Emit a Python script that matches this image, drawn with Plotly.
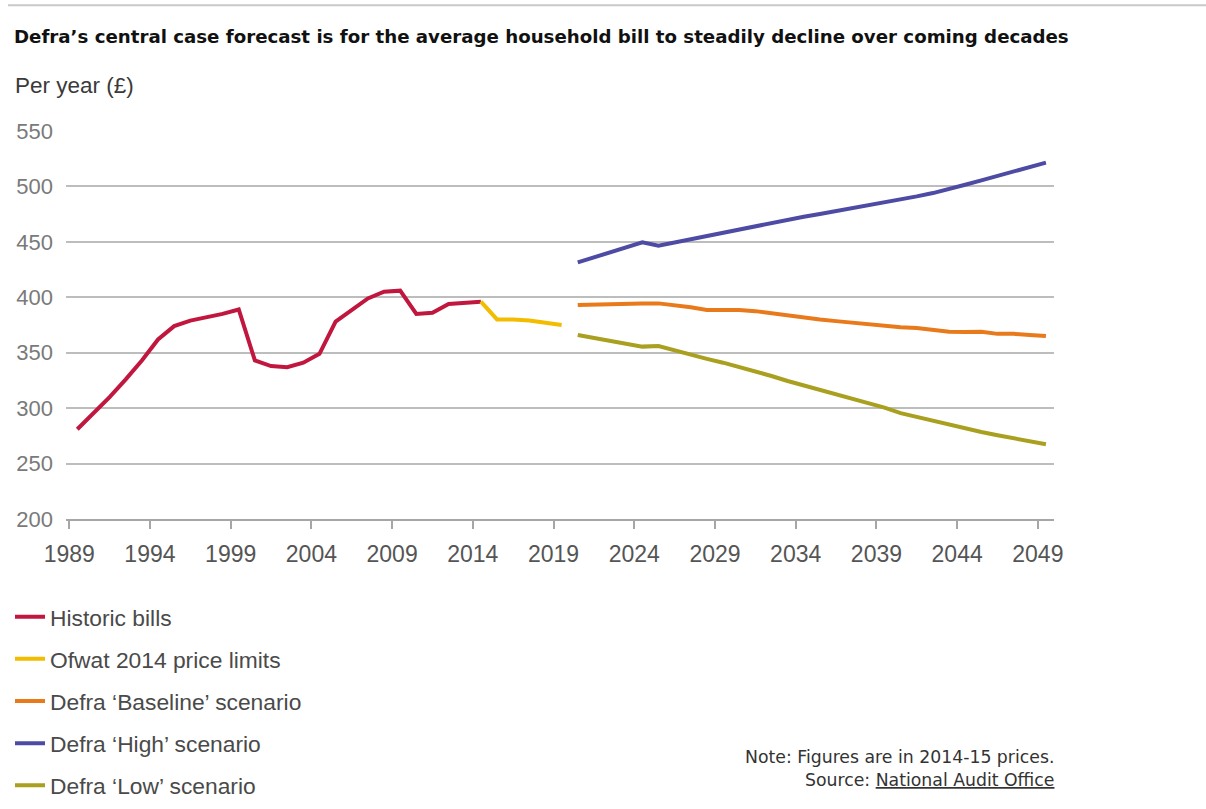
import plotly.graph_objects as go

# ---- data (financial years, value in £ per year, 2014-15 prices) ----
hist_years = list(range(1989, 2015))
hist_bills = [281, 295, 310, 326, 343, 362, 374, 379, 382, 385, 389, 343, 338, 337, 341,
              349, 378, 388, 399, 405, 406, 385, 386, 394, 395, 396]

ofwat_years = list(range(2014, 2020))
ofwat_bills = [396, 380, 380, 379, 377, 375]

scen_years = list(range(2020, 2050))
baseline = [393, 393.5, 394, 394.5, 394.5, 394.5, 393, 391, 388.5, 388.5,
            388.5, 387.5, 385.5, 383.5, 381.5, 380, 378.5, 377, 375.5, 374,
            373, 372.2, 370.5, 369, 368.6, 369, 367, 367, 366, 365]
high = [431.5, 436, 440.5, 445, 449.5, 446.5, 449.5, 452.5, 455.5, 458.5,
        461.5, 464.5, 467.5, 470.2, 472.7, 475.2, 477.7, 480.2, 482.8, 485.5,
        488.2, 491, 494, 497.5, 501.5, 505.5, 509.5, 513.5, 517.5, 521.5]
low = [366, 363.5, 361, 358, 355.5, 356, 352, 348.5, 344.5, 341,
       337, 333.5, 329, 324.5, 320.5, 316.5, 312.5, 308.5, 304.5, 300.5,
       295.5, 292, 288.5, 285, 281.5, 278.5, 275.5, 272.8, 270, 267.5]

tick_years = list(range(1989, 2050, 5))
y_ticks = [200, 250, 300, 350, 400, 450, 500, 550]

series = [
    ("Historic bills", hist_years, hist_bills, "#C1173F"),
    ("Ofwat 2014 price limits", ofwat_years, ofwat_bills, "#F2BD00"),
    ("Defra \u2018Baseline\u2019 scenario", scen_years, baseline, "#E87A1C"),
    ("Defra \u2018High\u2019 scenario", scen_years, high, "#4D4BA3"),
    ("Defra \u2018Low\u2019 scenario", scen_years, low, "#A9A020"),
]

fig = go.Figure()
for i, (name, yrs, vals, col) in enumerate(series):
    fig.add_trace(go.Scatter(
        x=[y + 0.5 for y in yrs],  # financial year plotted at mid-year
        y=vals, mode="lines", name=name, legendgroup=f"g{i}",
        line=dict(color=col, width=4),
        hoverinfo="skip",
    ))

sans = "Liberation Sans, Arial, Helvetica, sans-serif"
geo = "DejaVu Sans, Verdana, sans-serif"

PL, PW, PT, PH = 66, 988, 131, 388.5


def px_x(x):
    return (x - PL) / PW


def px_y(y):
    return 1 - (y - PT) / PH


fig.update_layout(
    width=1206, height=809,
    margin=dict(l=PL, r=1206 - PL - PW, t=PT, b=809 - PT - PH, autoexpand=False),
    paper_bgcolor="white", plot_bgcolor="white",
    title=dict(
        text="<b>Defra\u2019s central case forecast is for the average household bill to steadily decline over coming decades</b>",
        x=14 / 1206, xanchor="left", xref="container",
        y=1 - 37 / 809, yanchor="middle", yref="container",
        font=dict(family=geo, size=18.2, color="#111111"),
    ),
    xaxis=dict(
        range=[1988.8, 2050.0], tickmode="array", tickvals=tick_years,
        ticktext=[str(t) for t in tick_years],
        showgrid=False, zeroline=False,
        showline=True, linecolor="#A6A6A6", linewidth=2,
        ticks="outside", ticklen=8, tickwidth=1.5, tickcolor="#A6A6A6",
        ticklabelstandoff=5,
        tickfont=dict(family=sans, size=23, color="#555555"),
        fixedrange=True,
    ),
    yaxis=dict(
        range=[200, 550], tickmode="array", tickvals=y_ticks,
        showgrid=True, gridcolor="#BDBDBD", gridwidth=1.5,
        zeroline=False, showline=False, ticks="",
        ticklabelstandoff=12,
        tickfont=dict(family=sans, size=22, color="#7A7A7A"),
        fixedrange=True,
    ),
    legend=dict(
        x=px_x(10), xanchor="left", y=px_y(596), yanchor="top",
        font=dict(family=sans, size=22.8, color="#4A4A4A"),
        tracegroupgap=9.5, bgcolor="rgba(0,0,0,0)", itemwidth=30,
    ),
    shapes=[dict(type="line", xref="paper", yref="paper",
                 x0=px_x(8), x1=px_x(1206),
                 y0=px_y(5), y1=px_y(5),
                 line=dict(color="#C8C8C8", width=2))],
    annotations=[
        dict(text="Per year (\u00a3)", xref="paper", yref="paper",
             x=px_x(13), y=px_y(85), xanchor="left", yanchor="middle",
             showarrow=False, font=dict(family=sans, size=22.5, color="#3A3A3A")),
        dict(text="Note: Figures are in 2014-15 prices.", xref="paper", yref="paper",
             x=px_x(1056), y=px_y(758), xanchor="right", yanchor="middle",
             showarrow=False, font=dict(family=geo, size=17.3, color="#333333")),
        dict(text="Source: <u>National Audit Office</u>", xref="paper", yref="paper",
             x=px_x(1056), y=px_y(781), xanchor="right", yanchor="middle",
             showarrow=False, font=dict(family=geo, size=17.3, color="#333333")),
    ],
)

fig.write_html("out.html")
